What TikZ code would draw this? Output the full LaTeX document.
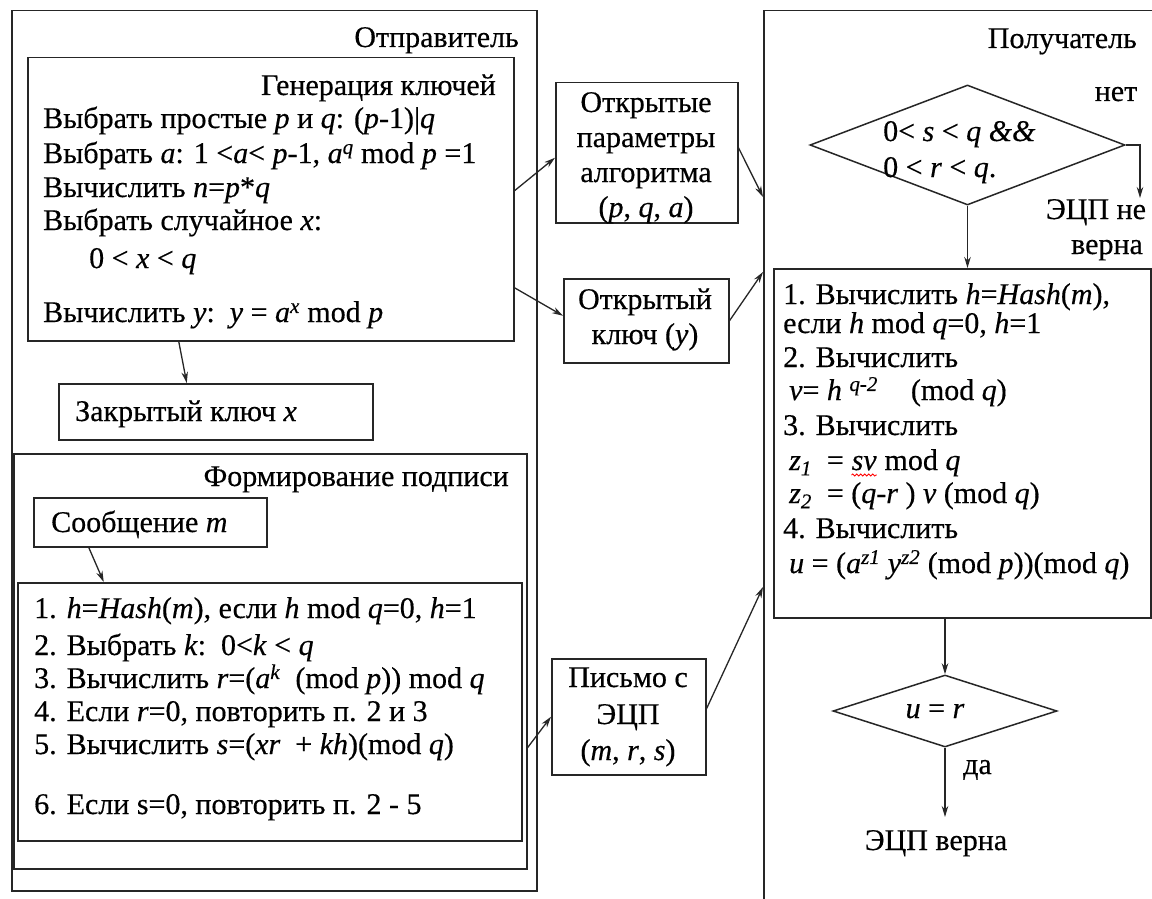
\documentclass[tikz,border=0pt]{standalone}
\usepackage{fontspec}
\setmainfont{Liberation Serif}[FakeBold=0.4]
\usetikzlibrary{arrows.meta,shapes.geometric,decorations.pathmorphing}
\newcommand\iv[1]{\textit{#1}}

\begin{document}
\begin{tikzpicture}[x=1pt,y=-1pt,
  font=\fontsize{30}{34}\selectfont,
  frame/.style={draw=black!85, line width=1.5pt},
  box/.style={frame, rectangle, inner sep=0pt, anchor=north west},
  decision/.style={frame, diamond, inner sep=0pt},
  txt/.style={inner sep=0pt, anchor=base west},
  rtxt/.style={inner sep=0pt, anchor=base east},
  ctxt/.style={inner sep=0pt, anchor=base},
  flow/.style={draw=black!85, line width=1.3pt, -{Stealth[length=11pt,width=6.5pt]}},
  spell/.style={draw=red, line width=0.8pt, decorate, decoration={snake, amplitude=1pt, segment length=4pt}},
]
\path[use as bounding box] (0,0) rectangle (1152,899);
\fill[white] (0,0) rectangle (1152,899);
\clip (0,0) rectangle (1152,899);

% ---------- sender side ----------
\node[box, minimum width=525pt, minimum height=880pt] (sender) at (11,10) {};
\node[rtxt] (sendertitle) at (519,47) {Отправитель};

\node[box, minimum width=486pt, minimum height=283pt] (keygen) at (27,57) {};
\node[rtxt] (keygentitle) at (496,95) {Генерация ключей};
\node[txt] (kg1) at (43,128) {Выбрать простые \iv{p} и \iv{q}: (\iv{p}-1)|\iv{q}};
\node[txt] (kg2) at (43,163) {Выбрать \iv{a}: 1 <\iv{a}< \iv{p}-1, \iv{a}\textsuperscript{\iv{q}} mod \iv{p} =1};
\node[txt] (kg3) at (43,197) {Вычислить \iv{n}=\iv{p}*\iv{q}};
\node[txt] (kg4) at (43,230) {Выбрать случайное \iv{x}:};
\node[txt] (kg5) at (89,268) {0 < \iv{x} < \iv{q}};
\node[txt] (kg6) at (43,322) {Вычислить \iv{y}:\ \ \iv{y} = \iv{a}\textsuperscript{\iv{x}} mod \iv{p}};

\node[box, minimum width=314pt, minimum height=56pt] (privkey) at (58,383) {};
\node[txt] (privkeytext) at (75,421) {Закрытый ключ \iv{x}};

\node[box, minimum width=513pt, minimum height=415pt] (signing) at (13,453) {};
\node[rtxt] (signingtitle) at (509,486) {Формирование подписи};

\node[box, minimum width=233pt, minimum height=49pt] (msg) at (33,497) {};
\node[txt] (msgtext) at (51,532) {Сообщение \iv{m}};

\node[box, minimum width=504pt, minimum height=258pt] (steps) at (17,582) {};
\node[txt] (st1) at (34,618) {1. \iv{h}=\iv{Hash}(\iv{m}), если \iv{h} mod \iv{q}=0, \iv{h}=1};
\node[txt] (st2) at (34,655) {2. Выбрать \iv{k}:\ \ 0<\iv{k} < \iv{q}};
\node[txt] (st3) at (34,688) {3. Вычислить \iv{r}=(\iv{a}\textsuperscript{\iv{k}}\ \ (mod \iv{p})) mod \iv{q}};
\node[txt] (st4) at (34,721) {4. Если \iv{r}=0, повторить п. 2 и 3};
\node[txt] (st5) at (34,754) {5. Вычислить \iv{s}=(\iv{xr}\ \ + \iv{kh})(mod \iv{q})};
\node[txt] (st6) at (34,814) {6. Если s=0, повторить п. 2 - 5};

% ---------- channel ----------
\node[box, minimum width=182pt, minimum height=140pt] (params) at (555,82) {};
\node[ctxt] (pa1) at (646,112) {Открытые};
\node[ctxt] (pa2) at (646,147) {параметры};
\node[ctxt] (pa3) at (646,182) {алгоритма};
\node[ctxt] (pa4) at (646,217) {(\iv{p}, \iv{q}, \iv{a})};

\node[box, minimum width=165pt, minimum height=84pt] (pubkey) at (563,278) {};
\node[ctxt] (pk1) at (645,309) {Открытый};
\node[ctxt] (pk2) at (645,344) {ключ (\iv{y})};

\node[box, minimum width=154pt, minimum height=116pt] (letter) at (551,658) {};
\node[ctxt] (le1) at (628,687) {Письмо с};
\node[ctxt] (le2) at (628,724) {ЭЦП};
\node[ctxt] (le3) at (628,760) {(\iv{m}, \iv{r}, \iv{s})};

% ---------- receiver side ----------
\node[box, minimum width=420pt, minimum height=920pt] (receiver) at (763,10) {};
\node[rtxt] (receivertitle) at (1137,48) {Получатель};

\node[decision, minimum width=315pt, minimum height=120pt] (check) at (967.5,145) {};
\node[txt] (ch1) at (883,141) {0< \iv{s} < \iv{q} \iv{\&\&}};
\node[txt] (ch2) at (883,177) {0 < \iv{r} < \iv{q}.};
\node[ctxt] (no) at (1116,101) {нет};
\coordinate (reject) at (1140,198);
\node[ctxt] (rej1) at (1096,219) {ЭЦП не};
\node[ctxt] (rej2) at (1107,254) {верна};

\node[box, minimum width=377pt, minimum height=349pt] (verify) at (773,268) {};
\node[txt] (ve1) at (783,304) {1. Вычислить \iv{h}=\iv{Hash}(\iv{m}),};
\node[txt] (ve2) at (783,333) {если \iv{h} mod \iv{q}=0, \iv{h}=1};
\node[txt] (ve3) at (783,367) {2. Вычислить};
\node[txt] (ve4) at (789,400) {\iv{v}= \iv{h} \textsuperscript{\iv{q}-\iv{2}}\hspace{1.1em}(mod \iv{q})};
\node[txt] (ve5) at (783,435) {3. Вычислить};
\node[txt] (ve6a) at (789,470) {\iv{z}\textsubscript{\iv{1}}\ \ =\kern0.25em};
\node[txt] (svword) at (ve6a.base east) {\iv{sv}};
\node[txt] (ve6b) at (svword.base east) {\ mod \iv{q}};
\node[txt] (ve7) at (789,503) {\iv{z}\textsubscript{\iv{2}}\ \ = (\iv{q}-\iv{r} ) \iv{v} (mod \iv{q})};
\node[txt] (ve8) at (783,538) {4. Вычислить};
\node[txt] (ve9) at (789,573) {\iv{u} = (\iv{a}\textsuperscript{\iv{z1}} \iv{y}\textsuperscript{\iv{z2}} (mod \iv{p}))(mod \iv{q})};

\node[decision, minimum width=224pt, minimum height=72pt] (result) at (945,711) {};
\node[ctxt] (restext) at (935,718) {\iv{u} = \iv{r}};
\coordinate (accept) at (945,817);
\node[txt] (yes) at (963,774) {да};
\node[ctxt] (acc) at (936,850) {ЭЦП верна};

% ---------- connectors ----------
\draw[flow] ([yshift=8.5pt]keygen.east) -- ([yshift=-5pt]params.west);
\draw[flow] ([yshift=5pt]params.east) -- ([yshift=-187pt]receiver.north west);
\draw[flow] ([yshift=-88.5pt]keygen.east) -- ([yshift=5pt]pubkey.west);
\draw[flow] (pubkey.east) -- ([yshift=-262pt]receiver.north west);
\draw[flow] ([xshift=-92pt]keygen.south) -- ([xshift=-29pt]privkey.north);
\draw[flow] ([xshift=-61.5pt]msg.south) -- ([xshift=-166pt]steps.north);
\draw[flow] ([yshift=-86.5pt]signing.east) -- (letter.west);
\draw[flow] ([yshift=8pt]letter.east) -- ([yshift=-577pt]receiver.north west);
\draw[flow] (check.south) -- (check.south |- verify.north);
\draw[flow] (check.east) -| (reject);
\draw[flow] (result.north |- verify.south) -- (result.north);
\draw[flow] (result.south) -- (accept);
\draw[spell] ([yshift=-5pt]svword.base west) -- ([yshift=-5pt]svword.base east);
\end{tikzpicture}
\end{document}
